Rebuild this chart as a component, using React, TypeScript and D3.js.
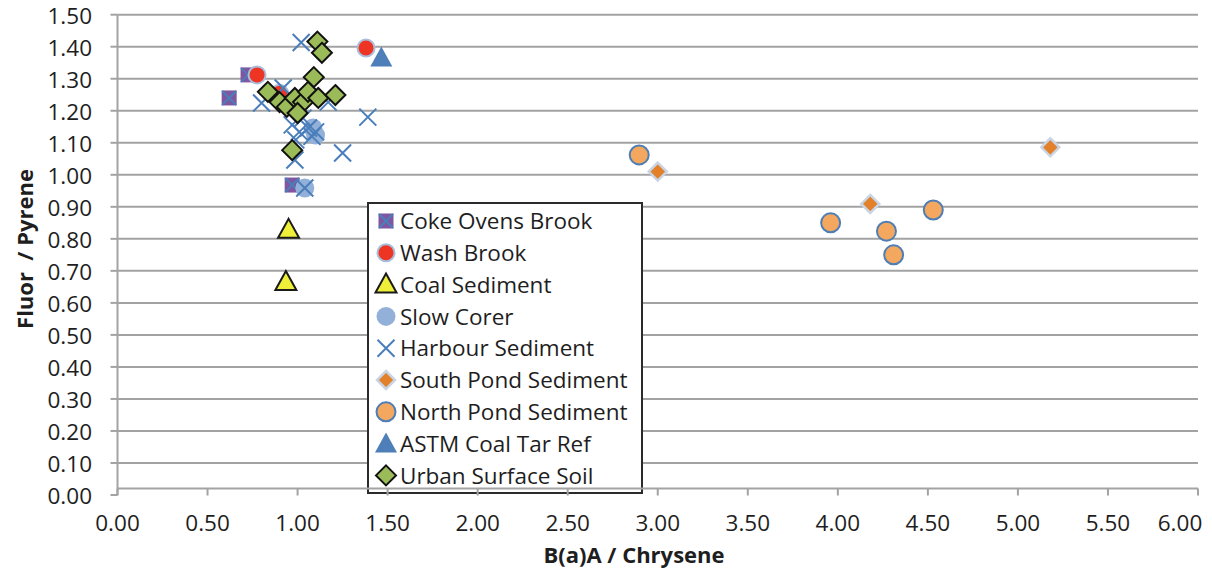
import React from "react";
import * as d3 from "d3";

const xTicks = [0, 0.5, 1, 1.5, 2, 2.5, 3, 3.5, 4, 4.5, 5, 5.5, 6];
const yTicks = [0, 0.1, 0.2, 0.3, 0.4, 0.5, 0.6, 0.7, 0.8, 0.9, 1.0, 1.1, 1.2, 1.3, 1.4, 1.5];

const cokeOvensX = [0.62, 0.725, 0.97];
const cokeOvensY = [1.24, 1.312, 0.968];
const washBrookX = [0.9, 0.775, 1.38];
const washBrookY = [1.255, 1.312, 1.396];
const coalSedX = [0.95, 0.935];
const coalSedY = [0.828, 0.665];
const slowCorerX = [1.04, 1.085, 1.1];
const slowCorerY = [0.959, 1.146, 1.124];
const harbourX = [1.02, 0.8, 0.92, 1.17, 1.39, 1.25, 0.985, 1.04, 0.97, 1.01, 1.06, 1.1, 0.99, 1.03, 1.08];
const harbourY = [1.413, 1.224, 1.271, 1.227, 1.18, 1.068, 1.046, 0.959, 1.156, 1.134, 1.146, 1.134, 1.109, 1.177, 1.12];
const southPondX = [3.0, 4.18, 5.18];
const southPondY = [1.01, 0.909, 1.086];
const northPondX = [2.897, 3.96, 4.27, 4.31, 4.53];
const northPondY = [1.062, 0.85, 0.824, 0.75, 0.89];
const astmX = [1.465];
const astmY = [1.366];
const urbanX = [1.11, 1.135, 1.09, 0.835, 0.9, 0.94, 0.985, 1.03, 1.058, 1.115, 1.21, 1.0, 0.97];
const urbanY = [1.416, 1.381, 1.305, 1.259, 1.227, 1.212, 1.24, 1.227, 1.259, 1.24, 1.249, 1.193, 1.077];

const seriesNames = [
  "Coke Ovens Brook",
  "Wash Brook",
  "Coal Sediment",
  "Slow Corer",
  "Harbour Sediment",
  "South Pond Sediment",
  "North Pond Sediment",
  "ASTM Coal Tar Ref",
  "Urban Surface Soil",
];
const seriesTypes = ["coke", "wash", "coal", "slow", "harbour", "south", "north", "astm", "urban"];
const seriesXs = [cokeOvensX, washBrookX, coalSedX, slowCorerX, harbourX, southPondX, northPondX, astmX, urbanX];
const seriesYs = [cokeOvensY, washBrookY, coalSedY, slowCorerY, harbourY, southPondY, northPondY, astmY, urbanY];

const FONT = "'Open Sans', 'Liberation Sans', sans-serif";

function Marker({ type, x, y }: { type: string; x: number; y: number }) {
  const xPath = (h: number) => `M${x - h},${y - h}L${x + h},${y + h}M${x - h},${y + h}L${x + h},${y - h}`;
  switch (type) {
    case "coke":
      return (
        <g>
          <rect x={x - 7.5} y={y - 7.5} width={15} height={15} fill="#7F569F" />
          <path d={xPath(7)} stroke="#4A7EBB" strokeWidth={2} fill="none" />
        </g>
      );
    case "wash":
      return <circle cx={x} cy={y} r={8.5} fill="#EE3524" stroke="#A9BEDD" strokeWidth={2} />;
    case "coal":
      return (
        <path
          d={`M${x},${y - 11}L${x + 10.5},${y + 8}L${x - 10.5},${y + 8}Z`}
          fill="#EFEF3A"
          stroke="#1A1A1A"
          strokeWidth={2}
          strokeLinejoin="miter"
        />
      );
    case "slow":
      return <circle cx={x} cy={y} r={9.5} fill="#93B1D8" />;
    case "harbour":
      return <path d={xPath(8.5)} stroke="#4A7EBB" strokeWidth={2} fill="none" />;
    case "south":
      return (
        <path
          d={`M${x},${y - 9}L${x + 9},${y}L${x},${y + 9}L${x - 9},${y}Z`}
          fill="#E3802A"
          stroke="#C9D4E4"
          strokeWidth={2.5}
        />
      );
    case "north":
      return <circle cx={x} cy={y} r={9.5} fill="#F4A75E" stroke="#4F7EB5" strokeWidth={2} />;
    case "astm":
      return (
        <path
          d={`M${x},${y - 11}L${x + 11},${y + 9}L${x - 11},${y + 9}Z`}
          fill="#4F7FB8"
        />
      );
    case "urban":
      return (
        <path
          d={`M${x},${y - 10}L${x + 10},${y}L${x},${y + 10}L${x - 10},${y}Z`}
          fill="#9BBB59"
          stroke="#111"
          strokeWidth={2}
          strokeLinejoin="miter"
        />
      );
    default:
      return null;
  }
}

export default function App() {
  const W = 1212;
  const H = 573;
  const x = d3.scaleLinear().domain([0, 6]).range([117.5, 1198]);
  const y = d3.scaleLinear().domain([0, 1.5]).range([495, 14.7]);
  const xAxisY = y(0) - 6.5;
  const gridColor = "#A3A3A3";
  const fmt = d3.format(".2f");
  const labelRightLimit = W - 8;

  const legX = 368;
  const legY = 203;
  const legW = 274;
  const legH = 290;
  const legRow0 = 221;
  const legStep = 31.8;

  return (
    <svg
      width={W}
      height={H}
      style={{ position: "absolute", left: 0, top: 0, background: "#fff" }}
      fontFamily={FONT}
    >
      <rect x={0} y={0} width={W} height={H} fill="#fff" />
      {/* gridlines */}
      {yTicks.filter((t) => t > 0).map((t) => (
        <line key={"g" + t} x1={x(0)} x2={x(6)} y1={y(t)} y2={y(t)} stroke={gridColor} strokeWidth={2} />
      ))}
      {/* points */}
      {seriesTypes.map((type, si) => (
        <g key={type}>
          {seriesXs[si].map((vx, i) => (
            <Marker key={i} type={type} x={x(vx)} y={y(seriesYs[si][i])} />
          ))}
        </g>
      ))}
      {/* legend */}
      <rect x={legX} y={legY} width={legW} height={legH} fill="#fff" stroke="#2B2B2B" strokeWidth={2} />
      {seriesNames.map((name, i) => {
        const cy = legRow0 + i * legStep;
        return (
          <g key={name}>
            <Marker type={seriesTypes[i]} x={386} y={cy} />
            <text x={400} y={cy} dy="0.36em" fontSize={22.5} fill="#1E1E1E">
              {name}
            </text>
          </g>
        );
      })}
      {/* y axis */}
      <line x1={x(0)} x2={x(0)} y1={y(1.5)} y2={y(0)} stroke={gridColor} strokeWidth={2} />
      {yTicks.map((t) => (
        <g key={"y" + t}>
          <line x1={x(0) - 7} x2={x(0)} y1={y(t)} y2={y(t)} stroke={gridColor} strokeWidth={2} />
          <text x={92} y={y(t) + 1} dy="0.36em" textAnchor="end" fontSize={22.5} fill="#1E1E1E">
            {fmt(t)}
          </text>
        </g>
      ))}
      {/* x axis */}
      <line x1={x(0)} x2={x(6)} y1={xAxisY} y2={xAxisY} stroke={gridColor} strokeWidth={2} />
      {xTicks.map((t) => {
        const lx = Math.min(x(t), labelRightLimit - 24);
        return (
          <g key={"x" + t}>
            <line x1={x(t)} x2={x(t)} y1={xAxisY} y2={xAxisY + 7} stroke={gridColor} strokeWidth={2} />
            <text x={lx} y={523} dy="0.36em" textAnchor="middle" fontSize={22.5} fill="#1E1E1E">
              {fmt(t)}
            </text>
          </g>
        );
      })}
      {/* axis titles */}
      <text x={634} y={555} dy="0.36em" textAnchor="middle" fontSize={22} fontWeight="bold" fill="#1E1E1E">
        B(a)A / Chrysene
      </text>
      <text
        transform={`translate(25,249) rotate(-90)`}
        dy="0.36em"
        textAnchor="middle"
        fontSize={22}
        fontWeight="bold"
        fill="#1E1E1E"
        style={{ whiteSpace: "pre" }}
      >
        {"Fluor  / Pyrene"}
      </text>
    </svg>
  );
}
